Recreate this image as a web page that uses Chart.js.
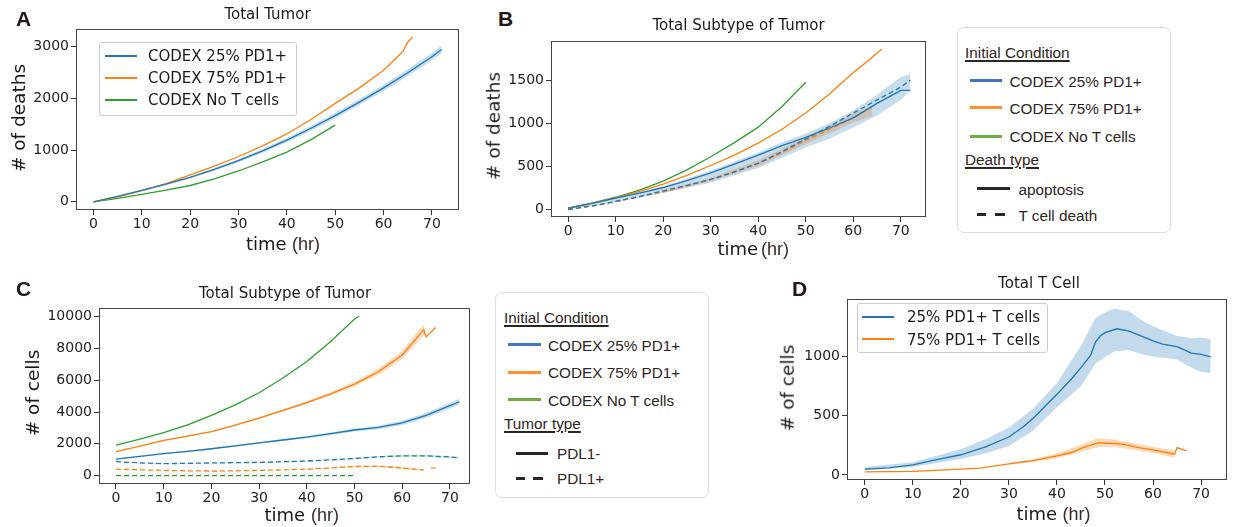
<!DOCTYPE html>
<html>
<head>
<meta charset="utf-8">
<script src="https://cdn.jsdelivr.net/npm/chart.js"></script>
<style>
  body { margin: 0; background: #fff; }
  #stage { position: relative; width: 1235px; height: 527px; overflow: hidden; background: #fff; }
  canvas { position: absolute; }
</style>
</head>
<body>
<div id="stage"></div>
<script>
// ---- data ----
const xTicks = [0, 10, 20, 30, 40, 50, 60, 70];
const yTicksA = [0, 1000, 2000, 3000];
const yTicksB = [0, 500, 1000, 1500];
const yTicksC = [0, 2000, 4000, 6000, 8000, 10000];
const yTicksD = [0, 500, 1000];

// A: total tumor deaths
const tA = [0, 5, 10, 15, 20, 25, 30, 35, 40, 45, 50, 55, 60, 65, 70, 72];
const a25 = [0, 105, 220, 340, 470, 625, 795, 985, 1190, 1420, 1665, 1925, 2200, 2490, 2800, 2940];
const a25Lo = [0, 95, 205, 322, 448, 598, 762, 948, 1148, 1372, 1612, 1868, 2138, 2422, 2728, 2865];
const a25Hi = [0, 115, 235, 358, 492, 652, 828, 1022, 1232, 1468, 1718, 1982, 2262, 2558, 2872, 3015];
const tA75 = [0, 5, 10, 15, 20, 25, 30, 35, 40, 45, 50, 55, 60, 64, 65, 66];
const a75 = [0, 95, 215, 350, 520, 690, 875, 1080, 1310, 1590, 1900, 2200, 2540, 2900, 3080, 3180];
const tANo = [0, 5, 10, 15, 20, 25, 30, 35, 40, 45, 50];
const aNo = [0, 65, 145, 225, 315, 445, 595, 770, 960, 1200, 1480];

// B: deaths by type (apoptosis / T cell death)
const tB = [0, 5, 10, 15, 20, 25, 30, 35, 40, 45, 50, 55, 60, 65, 70, 72];
const b25Apop = [15, 70, 131, 190, 255, 335, 424, 525, 630, 740, 837, 945, 1062, 1231, 1381, 1380];
const b25Tcell = [0, 40, 93, 150, 217, 280, 349, 435, 536, 670, 818, 965, 1118, 1270, 1419, 1501];
const tBBand = [0, 10, 20, 30, 40, 45, 50, 55, 60, 65, 70, 72];
const b25Lo = [0, 85, 190, 310, 480, 600, 720, 820, 950, 1090, 1270, 1380];
const b25Hi = [20, 140, 270, 450, 660, 780, 880, 1000, 1150, 1330, 1540, 1570];
const tB75 = [0, 5, 10, 15, 20, 25, 30, 35, 40, 45, 50, 55, 60, 63, 66];
const b75Apop = [15, 70, 135, 210, 293, 395, 510, 630, 769, 930, 1118, 1340, 1588, 1720, 1862];
const tB75T = [0, 5, 10, 15, 20, 25, 30, 35, 40, 45, 50, 55, 60, 64];
const b75Tcell = [0, 40, 93, 150, 205, 275, 349, 435, 536, 660, 800, 930, 1062, 1193];
const tB75Band = [20, 30, 40, 50, 60, 64];
const b75Lo = [195, 330, 505, 760, 1010, 1085];
const b75Hi = [215, 365, 570, 840, 1110, 1205];
const tBNo = [0, 5, 10, 15, 20, 25, 30, 35, 40, 45, 50];
const bNoApop = [15, 75, 142, 225, 330, 460, 611, 775, 955, 1195, 1475];

// C: tumor cells by PDL1 type
const tC = [0, 5, 10, 15, 20, 25, 30, 35, 40, 45, 50, 55, 60, 65, 70, 72];
const c25Neg = [1040, 1210, 1380, 1530, 1690, 1870, 2055, 2240, 2420, 2640, 2870, 3030, 3320, 3790, 4400, 4650];
const c25NegLo = [1010, 1175, 1340, 1490, 1645, 1820, 2000, 2180, 2355, 2560, 2780, 2920, 3180, 3630, 4230, 4470];
const c25NegHi = [1070, 1245, 1420, 1570, 1735, 1920, 2110, 2300, 2485, 2720, 2960, 3140, 3460, 3950, 4570, 4830];
const c25Pos = [875, 800, 750, 770, 795, 810, 830, 870, 915, 990, 1075, 1180, 1240, 1240, 1170, 1120];
const c25PosLo = [850, 775, 725, 745, 770, 785, 805, 840, 885, 955, 1035, 1130, 1180, 1180, 1110, 1070];
const c25PosHi = [900, 825, 775, 795, 820, 835, 855, 900, 945, 1025, 1115, 1230, 1300, 1300, 1230, 1170];
const tC75 = [0, 5, 10, 15, 20, 25, 30, 35, 40, 45, 50, 55, 60, 64.5, 65, 67];
const c75Neg = [1505, 1850, 2220, 2480, 2770, 3180, 3625, 4100, 4600, 5150, 5765, 6540, 7600, 9190, 8740, 9330];
const c75NegLo = [1480, 1820, 2185, 2440, 2725, 3130, 3565, 4030, 4520, 5050, 5620, 6340, 7330, 8850, 8740, 9330];
const c75NegHi = [1530, 1880, 2255, 2520, 2815, 3230, 3685, 4170, 4680, 5250, 5910, 6740, 7870, 9530, 8740, 9330];
const tC75P = [0, 5, 10, 15, 20, 25, 30, 35, 40, 45, 50, 55, 60, 64.5, 65.5, 66, 67];
const c75Pos = [405, 360, 325, 300, 285, 300, 325, 360, 405, 480, 570, 590, 480, 345, null, 490, 480];
const tC75PBand = [40, 45, 50, 55, 60, 64.5];
const c75PosLo = [385, 450, 530, 540, 420, 285];
const c75PosHi = [425, 510, 610, 640, 540, 405];
const tCNo = [0, 5, 10, 15, 20, 25, 30, 35, 40, 45, 50, 51];
const cNoNeg = [1913, 2300, 2708, 3200, 3790, 4450, 5214, 6150, 7190, 8450, 9860, 10040];
const tCNoP = [0, 50];
const cNoPos = [0, 0];

// D: T cells
const tD = [0, 5, 10, 15, 20, 25, 30, 33, 35, 40, 43, 45, 47, 48, 49, 50, 52.5, 55, 58, 60, 62, 65, 68, 70, 72];
const d25 = [49, 60, 85, 129, 170, 235, 320, 407, 476, 680, 809, 905, 1008, 1118, 1172, 1200, 1233, 1213, 1164, 1131, 1104, 1082, 1028, 1017, 995];
const tDBand = [0, 10, 20, 25, 30, 35, 40, 45, 48, 50, 52, 55, 58, 60, 65, 68, 70, 72];
const d25Hi = [67, 107, 216, 298, 399, 557, 776, 1090, 1322, 1371, 1404, 1382, 1295, 1254, 1172, 1153, 1159, 1145];
const d25Lo = [40, 66, 134, 180, 243, 372, 571, 748, 939, 994, 1043, 1054, 1013, 1000, 973, 904, 871, 858];
const tD75 = [0, 10, 20, 24, 30, 35, 40, 43, 45, 48.5, 52, 54, 57, 60, 64.5, 65, 67];
const d75 = [25, 30, 49, 58, 93, 120, 161, 189, 224, 271, 265, 257, 230, 211, 175, 230, 202];
const tD75Band = [30, 35, 40, 45, 48.5, 52, 57, 60, 64.5];
const d75Lo = [85, 108, 140, 195, 235, 235, 205, 185, 145];
const d75Hi = [101, 132, 182, 253, 310, 298, 258, 238, 205];

// ---- helpers ----
const BLUE = '#1f77b4', ORANGE = '#ff7f0e', GREEN = '#2ca02c';
const stage = document.getElementById('stage');

function pts(xs, ys) { return xs.map((x, i) => ({ x: x, y: ys[i] })); }

function line(xs, ys, color, dashed) {
  return { data: pts(xs, ys), borderColor: color, borderWidth: 1.3, borderDash: dashed ? [5, 3] : [],
    pointRadius: 0, fill: false, tension: 0 };
}

function band(xs, lo, hi, rgba) {
  return [
    { data: pts(xs, hi), borderWidth: 0, borderColor: 'transparent', backgroundColor: rgba, fill: '+1', pointRadius: 0 },
    { data: pts(xs, lo), borderWidth: 0, borderColor: 'transparent', fill: false, pointRadius: 0 }
  ];
}

const framePlugin = {
  id: 'frame',
  afterDraw(chart) {
    const a = chart.chartArea, ctx = chart.ctx;
    ctx.save();
    ctx.strokeStyle = '#444';
    ctx.lineWidth = 1;
    ctx.strokeRect(Math.round(a.left) + 0.5, Math.round(a.top) + 0.5, Math.round(a.right - a.left) - 1, Math.round(a.bottom - a.top) - 1);
    ctx.restore();
  }
};

function makePanel(frame, xr, yr, yTicks, datasets) {
  const padL = 75, padT = 5, padR = 12, padB = 32;
  const W = frame.r - frame.l, H = frame.b - frame.t;
  const cv = document.createElement('canvas');
  cv.width = W + padL + padR;
  cv.height = H + padT + padB;
  cv.style.left = (frame.l - padL) + 'px';
  cv.style.top = (frame.t - padT) + 'px';
  stage.appendChild(cv);
  const tickFont = { family: "'DejaVu Sans'", size: 14 };
  new Chart(cv.getContext('2d'), {
    type: 'line',
    data: { datasets: datasets },
    options: {
      responsive: false, animation: false, devicePixelRatio: 1,
      layout: { padding: { left: 0, top: padT, right: padR, bottom: 0 } },
      plugins: { legend: { display: false }, tooltip: { enabled: false }, filler: { drawTime: 'beforeDatasetsDraw' } },
      scales: {
        x: {
          type: 'linear', min: xr[0], max: xr[1],
          afterBuildTicks: s => { s.ticks = xTicks.map(v => ({ value: v })); },
          afterFit: s => { s.height = padB; },
          grid: { drawOnChartArea: false, drawTicks: true, tickLength: 5, color: '#333' },
          border: { display: false },
          ticks: { font: tickFont, color: '#222', padding: 1, autoSkip: false, maxRotation: 0, callback: v => String(v) }
        },
        y: {
          type: 'linear', min: yr[0], max: yr[1],
          afterBuildTicks: s => { s.ticks = yTicks.map(v => ({ value: v })); },
          afterFit: s => { s.width = padL; },
          grid: { drawOnChartArea: false, drawTicks: true, tickLength: 5, color: '#333' },
          border: { display: false },
          ticks: { font: tickFont, color: '#222', padding: 2, autoSkip: false, callback: v => String(v) }
        }
      }
    },
    plugins: [framePlugin]
  });
}

function txt(s, x, base, size, o) {
  o = o || {};
  const d = document.createElement('div');
  d.textContent = s;
  Object.assign(d.style, {
    position: 'absolute', left: x + 'px', top: (base - 0.846 * size) + 'px',
    font: (o.weight || 'normal') + ' ' + size + 'px ' + (o.font || "'DejaVu Sans'"),
    lineHeight: size + 'px', color: o.color || '#1a1a1a', whiteSpace: 'nowrap'
  });
  if (o.center) d.style.transform = 'translateX(-50%)';
  if (o.underline) {
    d.style.textDecoration = 'underline';
    d.style.textDecorationThickness = '1.5px';
    d.style.textUnderlineOffset = '2px';
  }
  stage.appendChild(d);
}

function ylab(s, cx, cy, size) {
  const d = document.createElement('div');
  d.textContent = s;
  Object.assign(d.style, {
    position: 'absolute', left: cx + 'px', top: cy + 'px', font: size + "px 'DejaVu Sans'",
    lineHeight: size + 'px', color: '#1a1a1a', whiteSpace: 'nowrap',
    transform: 'translate(-50%, -50%) rotate(-90deg)'
  });
  stage.appendChild(d);
}

function box(l, t, r, b, radius, border, bg) {
  const d = document.createElement('div');
  Object.assign(d.style, {
    position: 'absolute', left: l + 'px', top: t + 'px', width: (r - l - 2) + 'px', height: (b - t - 2) + 'px',
    border: '1px solid ' + border, borderRadius: radius + 'px', background: bg
  });
  stage.appendChild(d);
}

function seg(x1, x2, y, color, w) {
  const d = document.createElement('div');
  Object.assign(d.style, {
    position: 'absolute', left: x1 + 'px', top: (y - w / 2) + 'px', width: (x2 - x1) + 'px', height: w + 'px', background: color
  });
  stage.appendChild(d);
}

function timeLabel(x1, x2, base) {
  txt('time', x1, base, 18);
  txt('(hr)', x2, base, 18, { font: "'Liberation Sans'", color: '#3b2a22' });
}

// ---- panel A ----
makePanel({ l: 76, t: 24, r: 459, b: 210 }, [-3.6, 75.6], [-158, 3328], yTicksA, [
  ...band(tA, a25Lo, a25Hi, 'rgba(31,119,180,0.25)'),
  line(tA, a25, BLUE), line(tA75, a75, ORANGE), line(tANo, aNo, GREEN)
]);

// ---- panel B ----
makePanel({ l: 551, t: 36, r: 926, b: 217 }, [-3.6, 75.3], [-87, 1949], yTicksB, [
  ...band(tBBand, b25Lo, b25Hi, 'rgba(31,119,180,0.25)'),
  ...band(tB75Band, b75Lo, b75Hi, 'rgba(255,127,14,0.28)'),
  line(tB, b25Apop, BLUE), line(tB, b25Tcell, BLUE, true),
  line(tB75, b75Apop, ORANGE), line(tB75T, b75Tcell, ORANGE, true),
  line(tBNo, bNoApop, GREEN)
]);

// ---- panel C ----
makePanel({ l: 99, t: 303, r: 470, b: 484 }, [-3.56, 74.2], [-532, 10532], yTicksC, [
  ...band(tC, c25NegLo, c25NegHi, 'rgba(31,119,180,0.25)'),
  ...band(tC, c25PosLo, c25PosHi, 'rgba(31,119,180,0.2)'),
  ...band(tC75, c75NegLo, c75NegHi, 'rgba(255,127,14,0.28)'),
  ...band(tC75PBand, c75PosLo, c75PosHi, 'rgba(255,127,14,0.28)'),
  line(tC, c25Neg, BLUE), line(tC, c25Pos, BLUE, true),
  line(tC75, c75Neg, ORANGE), line(tC75P, c75Pos, ORANGE, true),
  line(tCNo, cNoNeg, GREEN), line(tCNoP, cNoPos, GREEN, true)
]);

// ---- panel D ----
makePanel({ l: 847, t: 294, r: 1227, b: 480 }, [-3.7, 75.4], [-43, 1481], yTicksD, [
  ...band(tDBand, d25Lo, d25Hi, 'rgba(31,119,180,0.27)'),
  ...band(tD75Band, d75Lo, d75Hi, 'rgba(255,127,14,0.3)'),
  line(tD, d25, BLUE), line(tD75, d75, ORANGE)
]);

// ---- titles, letters, axis labels ----
const letter = { font: "'Liberation Sans'", weight: 'bold', color: '#231815' };
txt('A', 16, 26, 21, letter);
txt('B', 498, 26, 21, letter);
txt('C', 16, 296, 21, letter);
txt('D', 792, 296, 21, letter);

txt('Total Tumor', 267.5, 19.5, 15, { center: true });
txt('Total Subtype of Tumor', 738.5, 31, 15, { center: true });
txt('Total Subtype of Tumor', 285, 299, 15, { center: true });
txt('Total T Cell', 1039, 288.5, 15, { center: true });

ylab('# of deaths', 18.5, 117.5, 18.5);
ylab('# of deaths', 494, 126, 18.5);
ylab('# of cells', 33, 393, 18.5);
ylab('# of cells', 787.5, 387.5, 18.5);

timeLabel(246, 292, 250);
timeLabel(717.5, 761, 255);
timeLabel(264.5, 311, 521);
timeLabel(1016.5, 1062.5, 520);

// ---- legend A (matplotlib style) ----
box(99, 42, 297, 116, 3, '#ccc', 'rgba(255,255,255,0.8)');
seg(105, 137, 56, BLUE, 1.5); txt('CODEX 25% PD1+', 148, 62, 15);
seg(105, 137, 78, ORANGE, 1.5); txt('CODEX 75% PD1+', 148, 84, 15);
seg(105, 137, 100, GREEN, 1.5); txt('CODEX No T cells', 148, 106, 15);

// ---- legend D ----
box(857, 303, 1048, 353, 3, '#ccc', 'rgba(255,255,255,0.8)');
seg(862, 894, 317, BLUE, 1.5); txt('25% PD1+ T cells', 907, 323, 15);
seg(862, 894, 339, ORANGE, 1.5); txt('75% PD1+ T cells', 907, 345.5, 15);

// ---- legends B and C (outside boxes) ----
const LB = '#4472c4', LO = '#ff902f', LG = '#70ad47', LT = '#2e2522';
const lf = { font: "'Liberation Sans'", color: LT };
const lfu = { font: "'Liberation Sans'", color: LT, underline: true };
const LS = 15.3;

box(957, 27, 1171, 233, 7, '#ddd', '#fff');
txt('Initial Condition', 965, 57.7, LS, lfu);
seg(970, 1002, 80, LB, 3); txt('CODEX 25% PD1+', 1009.5, 86.5, LS, lf);
seg(970, 1002, 107, LO, 3); txt('CODEX 75% PD1+', 1009.5, 114, LS, lf);
seg(970, 1002, 136, LG, 3); txt('CODEX No T cells', 1009.5, 142, LS, lf);
txt('Death type', 965, 165.4, LS, lfu);
seg(977, 1010, 188, LT, 3); txt('apoptosis', 1018.5, 194.5, LS, lf);
seg(977, 985.5, 214, LT, 3); seg(995, 1005, 214, LT, 3); txt('T cell death', 1018.5, 220.5, LS, lf);

box(495, 292, 709, 498, 7, '#ddd', '#fff');
txt('Initial Condition', 504, 322.7, LS, lfu);
seg(508, 541, 344, LB, 3); txt('CODEX 25% PD1+', 548, 350.5, LS, lf);
seg(508, 541, 372, LO, 3); txt('CODEX 75% PD1+', 548, 378.2, LS, lf);
seg(508, 541, 399.5, LG, 3); txt('CODEX No T cells', 548, 405.8, LS, lf);
txt('Tumor type', 504, 428.7, LS, lfu);
seg(516, 548, 453, LT, 3); txt('PDL1-', 557, 459.2, LS, lf);
seg(516, 525, 478, LT, 3); seg(533, 543, 478, LT, 3); txt('PDL1+', 557, 484.2, LS, lf);
</script>
</body>
</html>
